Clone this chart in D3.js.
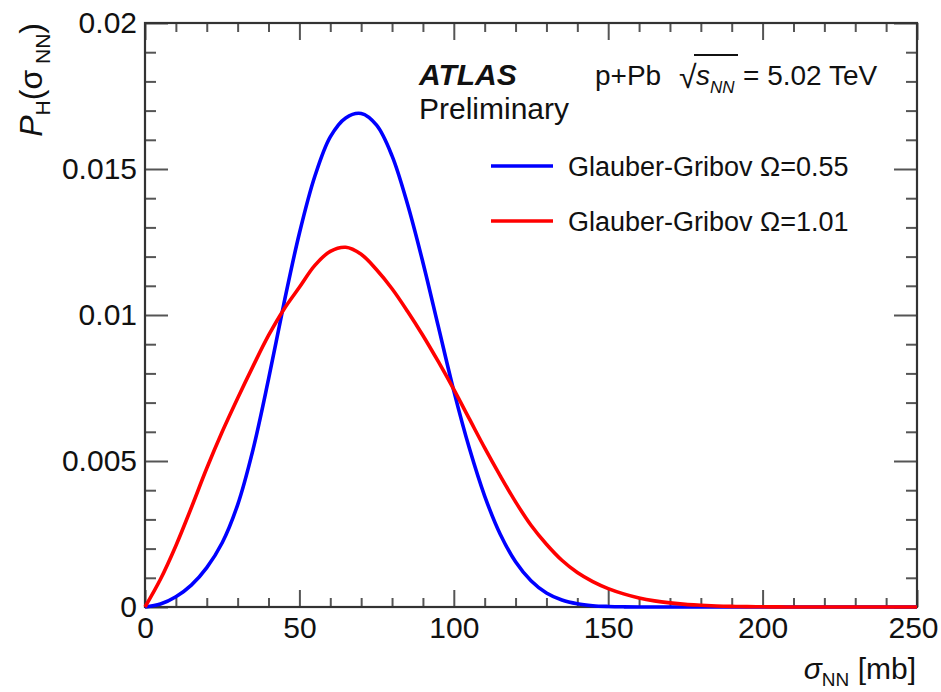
<!DOCTYPE html>
<html><head><meta charset="utf-8">
<script src="https://cdn.jsdelivr.net/npm/d3@7"></script>
<style>
body{margin:0;background:#fff}
svg text{font-family:"Liberation Sans",Arial,Helvetica,sans-serif;fill:#111}
</style>
</head><body><svg id="c" width="941" height="692"></svg>
<script>
// ---- data ----
const sigmaNN = [0,5,10,15,20,25,30,35,40,45,50,55,60,65,70,75,80,85,90,95,100,105,110,115,120,125,130,135,140,145,150,155,160,165,170,175,180,185,190,195,200,205,210,215,220,225,230,235,240,245,250];
const omega055 = [0,0.0001,0.00035,0.00075,0.00135,0.0022,0.0035,0.0054,0.0078,0.0104,0.0128,0.01475,0.0161,0.01675,0.0169,0.0165,0.01545,0.0138,0.0118,0.0096,0.0074,0.00545,0.0038,0.0025,0.00155,0.0009,0.00048,0.00024,0.00011,0.000045,0.000018,0.000006,0.000002,0,0,0,0,0,0,0,0,0,0,0,0,0,0,0,0,0,0];
const omega101 = [0,0.00095,0.0021,0.0034,0.00475,0.006,0.00715,0.00825,0.0093,0.0102,0.01095,0.0117,0.01218,0.01232,0.01208,0.01155,0.0109,0.01013,0.0093,0.0084,0.00745,0.00645,0.00545,0.0045,0.0036,0.0028,0.00215,0.0016,0.00118,0.00087,0.00063,0.00045,0.00031,0.00021,0.00014,0.00009,0.00006,0.000035,0.00002,0.000012,0.000006,0.000003,0.000001,0,0,0,0,0,0,0,0];
const seriesNames = ["Glauber-Gribov \u03A9=0.55","Glauber-Gribov \u03A9=1.01"];
const seriesColors = ["#0000ff","#ff0000"];
const xMajor = [0,50,100,150,200,250];
const xMinor = [10,20,30,40,60,70,80,90,110,120,130,140,160,170,180,190,210,220,230,240];
const yMajor = [0,0.005,0.01,0.015,0.02];
const yMajorLabels = ["0","0.005","0.01","0.015","0.02"];
const yMinor = [0.001,0.002,0.003,0.004,0.006,0.007,0.008,0.009,0.011,0.012,0.013,0.014,0.016,0.017,0.018,0.019];

// ---- layout ----
const L=145, R=917, T=23, B=607;
const svg = d3.select("#c");
const x = d3.scaleLinear().domain([0,250]).range([L,R]);
const y = d3.scaleLinear().domain([0,0.02]).range([B,T]);

const tickCol="#555";
function styleAxis(g, fs){
  g.select(".domain").remove();
  g.selectAll("line").attr("stroke",tickCol).attr("stroke-width",2);
  g.selectAll("text").attr("font-size",fs).attr("fill","#111")
   .style("font-family",'"Liberation Sans",Arial,sans-serif');
}
// bottom
svg.append("g").attr("transform",`translate(0,${B})`)
  .call(d3.axisBottom(x).tickValues(xMajor).tickFormat(d3.format("d")).tickSize(-17).tickPadding(10))
  .call(g=>styleAxis(g,30))
  .call(g=>g.selectAll(".tick text").filter(d=>d===250).attr("dx",-4));
svg.append("g").attr("transform",`translate(0,${B})`)
  .call(d3.axisBottom(x).tickValues(xMinor).tickFormat("").tickSize(-9)).call(g=>styleAxis(g,30));
// top
svg.append("g").attr("transform",`translate(0,${T})`)
  .call(d3.axisTop(x).tickValues(xMajor).tickFormat("").tickSize(-17)).call(g=>styleAxis(g,30));
svg.append("g").attr("transform",`translate(0,${T})`)
  .call(d3.axisTop(x).tickValues(xMinor).tickFormat("").tickSize(-9)).call(g=>styleAxis(g,30));
// left
svg.append("g").attr("transform",`translate(${L},0)`)
  .call(d3.axisLeft(y).tickValues(yMajor).tickFormat((d,i)=>yMajorLabels[i]).tickSize(-23).tickPadding(8))
  .call(g=>styleAxis(g,30));
svg.append("g").attr("transform",`translate(${L},0)`)
  .call(d3.axisLeft(y).tickValues(yMinor).tickFormat("").tickSize(-11)).call(g=>styleAxis(g,30));
// right
svg.append("g").attr("transform",`translate(${R},0)`)
  .call(d3.axisRight(y).tickValues(yMajor).tickFormat("").tickSize(-23)).call(g=>styleAxis(g,30));
svg.append("g").attr("transform",`translate(${R},0)`)
  .call(d3.axisRight(y).tickValues(yMinor).tickFormat("").tickSize(-11)).call(g=>styleAxis(g,30));

// frame
svg.append("rect").attr("x",L).attr("y",T).attr("width",R-L).attr("height",B-T)
  .attr("fill","none").attr("stroke","#333").attr("stroke-width",2.2);

// curves
const line = d3.line().x(d=>x(d[0])).y(d=>y(Math.max(0,d[1]))).curve(d3.curveCatmullRom.alpha(0.5));
[omega055, omega101].forEach((vals,i)=>{
  svg.append("path").datum(sigmaNN.map((s,j)=>[s,vals[j]]))
    .attr("d",line).attr("fill","none").attr("stroke",seriesColors[i])
    .attr("stroke-width",3.6).attr("stroke-linejoin","round");
});

// legend
const legY=[166,221];
seriesNames.forEach((n,i)=>{
  svg.append("line").attr("x1",491).attr("x2",553).attr("y1",legY[i]).attr("y2",legY[i])
    .attr("stroke",seriesColors[i]).attr("stroke-width",3.6);
  svg.append("text").attr("x",568).attr("y",legY[i]).attr("dy","0.36em")
    .attr("font-size",27).text(n);
});

// ATLAS label
svg.append("text").attr("x",419).attr("y",85).attr("font-size",30)
  .attr("font-weight","bold").attr("font-style","italic").text("ATLAS");
svg.append("text").attr("x",419).attr("y",119).attr("font-size",30).text("Preliminary");
svg.append("text").attr("x",595).attr("y",85).attr("font-size",28).text("p+Pb");
svg.append("text").attr("x",679).attr("y",88).attr("font-size",32).text("\u221A");
svg.append("line").attr("x1",694).attr("x2",738).attr("y1",55).attr("y2",55)
  .attr("stroke","#111").attr("stroke-width",1.8);
svg.append("text").attr("x",696).attr("y",85).attr("font-size",28).attr("font-style","italic").text("s");
svg.append("text").attr("x",710).attr("y",93).attr("font-size",17).attr("font-style","italic").text("NN");
svg.append("text").attr("x",743).attr("y",85).attr("font-size",28).text("= 5.02 TeV");

// x title
const xt = svg.append("text").attr("x",916).attr("y",679).attr("text-anchor","end").attr("font-size",30);
xt.append("tspan").attr("font-style","italic").text("\u03C3");
xt.append("tspan").attr("font-size",19).attr("dy",7).text("NN");
xt.append("tspan").attr("dy",-7).text(" [mb]");

// y title
const yt = svg.append("text").attr("transform","translate(42,23) rotate(-90)")
  .attr("text-anchor","end").attr("font-size",32);
yt.append("tspan").attr("font-style","italic").text("P");
yt.append("tspan").attr("font-size",21).attr("dy",8).text("H");
yt.append("tspan").attr("dy",-8).text("(\u03C3");
yt.append("tspan").attr("font-size",21).attr("dy",8).text(" NN");
yt.append("tspan").attr("dy",-8).text(")");
</script>
</body></html>
